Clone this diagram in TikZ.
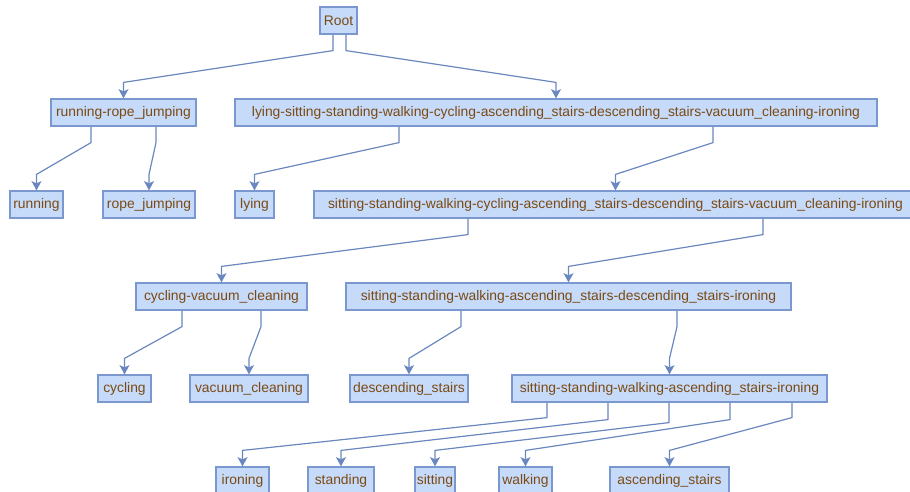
\documentclass[tikz,border=0pt]{standalone}
\usepackage{fontspec}
\setmainfont{Liberation Sans}
\usepackage{xcolor}
\usepackage{tikz}
\usetikzlibrary{arrows.meta}
\definecolor{boxfill}{HTML}{C6DAFA}
\definecolor{boxline}{HTML}{7B97CF}
\definecolor{linkcol}{HTML}{6A87BF}
\definecolor{labcol}{HTML}{7B4A12}

\begin{document}
\begin{tikzpicture}[x=0.75pt,y=-0.75pt,
  font=\fontsize{10.4}{12}\selectfont,
  n/.style={draw=boxline,fill=boxfill,text=labcol,line width=0.9pt,
            inner sep=0pt,minimum height=20.25pt},
  ar/.style={-{Stealth[length=7pt,width=7.5pt,inset=1.8pt]},line width=0.9pt,linkcol},
]
\useasboundingbox (0,0) rectangle (910,492);
\node[n,minimum width=27.75pt] (root) at (338.5,20.5) {Root};
\node[n,minimum width=108.75pt] (rr) at (123.5,112.5) {running-rope\_jumping};
\node[n,minimum width=481.5pt] (lall) at (556,112.5)
  {lying-sitting-standing-walking-cycling-ascending\_stairs-descending\_stairs-vacuum\_cleaning-ironing};
\node[n,minimum width=39.75pt] (running) at (36.5,204.5) {running};
\node[n,minimum width=69pt] (rope) at (149,204.5) {rope\_jumping};
\node[n,minimum width=29.25pt] (lying) at (254.5,204.5) {lying};
\node[n,minimum width=452.25pt] (sall) at (615.5,204.5)
  {sitting-standing-walking-cycling-ascending\_stairs-descending\_stairs-vacuum\_cleaning-ironing};
\node[n,minimum width=128.25pt] (cv) at (221.5,296.5) {cycling-vacuum\_cleaning};
\node[n,minimum width=333.75pt] (sswadi) at (568.5,296.5)
  {sitting-standing-walking-ascending\_stairs-descending\_stairs-ironing};
\node[n,minimum width=39.75pt] (cycling) at (124.5,388.5) {cycling};
\node[n,minimum width=88.5pt] (vacuum) at (249,388.5) {vacuum\_cleaning};
\node[n,minimum width=88.5pt] (desc) at (409,388.5) {descending\_stairs};
\node[n,minimum width=236.25pt] (sswai) at (669.5,388.5)
  {sitting-standing-walking-ascending\_stairs-ironing};
\node[n,minimum width=39.75pt] (ironing) at (242.5,480.5) {ironing};
\node[n,minimum width=49.5pt] (standing) at (341,480.5) {standing};
\node[n,minimum width=30pt] (sitting) at (435,480.5) {sitting};
\node[n,minimum width=39.75pt] (walking) at (525.5,480.5) {walking};
\node[n,minimum width=89.25pt] (asc) at (669.5,480.5) {ascending\_stairs};
\foreach \p/\sx/\dy/\c in {root/333/16/rr, root/346/16/lall,
    rr/91/16/running, rr/156/16/rope, lall/399/16/lying, lall/713/16/sall,
    sall/468/16/cv, sall/763/16/sswadi, cv/182/16/cycling, cv/261/16/vacuum,
    sswadi/461/16/desc, sswadi/677/16/sswai,
    sswai/547/15/ironing, sswai/608/17/standing, sswai/669/20/sitting,
    sswai/730/17/walking, sswai/792/15/asc}
  \draw[ar] (\p.south -| \sx,0) -- ++(0,\dy) -- ([yshift=12pt]\c.north) -- (\c.north);
\end{tikzpicture}
\end{document}
